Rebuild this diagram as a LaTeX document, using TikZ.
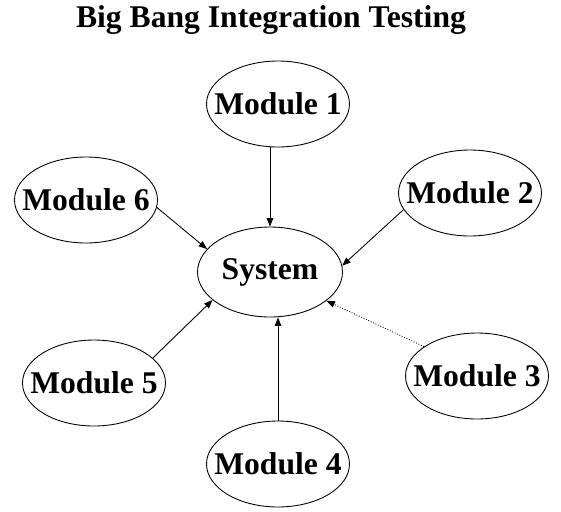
\documentclass[tikz,border=0pt]{standalone}
\usepackage{fontspec}
\setmainfont{Liberation Serif}
\usepackage{tikz}
\usetikzlibrary{arrows.meta,shapes.geometric}

\newcommand{\modlabel}[1]{\makebox[0pt]{#1}}

\begin{document}
\begin{tikzpicture}[
    x=0.02cm, y=-0.02cm,
    every node/.style={font=\fontsize{18}{21}\selectfont\bfseries},
    mod/.style={draw, ellipse, inner sep=0pt, line width=0.5pt,
                minimum width=2.86cm, minimum height=1.72cm},
    arr/.style={-{Triangle[length=1.7mm, width=1.3mm]}, line width=0.5pt},
    dotarr/.style={arr, densely dotted}
  ]
    \useasboundingbox (0,0) rectangle (561,511);

    \node (title) at (271,20) {Big Bang Integration Testing};

    \node[mod, minimum width=2.9cm, minimum height=1.8cm] (sys) at (270,272) {\modlabel{System}};
    \node[mod] (m1) at (278,104) {\modlabel{Module 1}};
    \node[mod] (m2) at (470,193) {\modlabel{Module 2}};
    \node[mod] (m3) at (477,376) {\modlabel{Module 3}};
    \node[mod] (m4) at (278,464) {\modlabel{Module 4}};
    \node[mod] (m5) at (94,383) {\modlabel{Module 5}};
    \node[mod] (m6) at (86,200) {\modlabel{Module 6}};

    % all modules into the system at once
    \draw[arr] (sys.north |- m1.south) -- (sys.north);
    \draw[arr] (m2.-166) -- (sys.5);
    \draw[dotarr] (m3.151) -- (sys.-27);
    \draw[arr] (m4.north) -- (m4.north |- sys.south);
    \draw[arr] (m5.23) -- (sys.-154);
    \draw[arr] (m6.-6) -- (sys.160);
  \end{tikzpicture}
\end{document}
